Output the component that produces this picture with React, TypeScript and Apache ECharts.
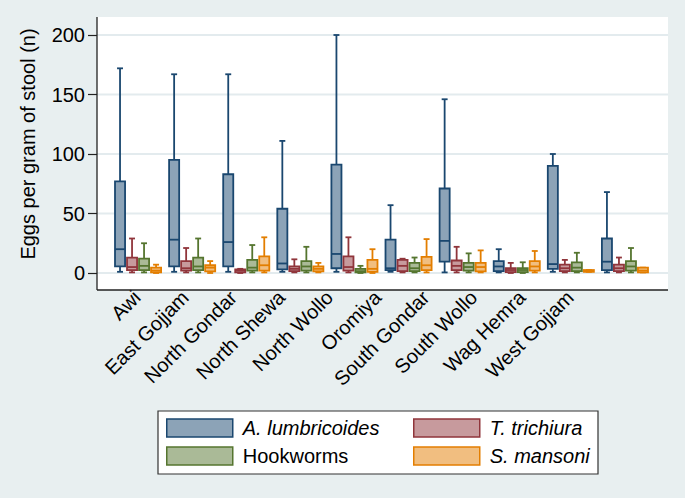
import React, { useEffect, useRef } from "react";
import * as echarts from "echarts";

const regions = [
  "Awi",
  "East Gojjam",
  "North Gondar",
  "North Shewa",
  "North Wollo",
  "Oromiya",
  "South Gondar",
  "South Wollo",
  "Wag Hemra",
  "West Gojjam",
];

// [lower whisker, Q1, median, Q3, upper whisker]
const aLumbricoides = [
  [1, 5.5, 20, 77, 172],
  [1, 5.5, 28, 95, 167],
  [1, 5.5, 26, 83, 167],
  [1, 3, 8, 54, 111],
  [1, 4, 16, 91, 200],
  [1, 2.5, 4, 28, 57],
  [0.5, 9.5, 27, 71, 146],
  [0.5, 1.5, 5.5, 10, 20],
  [1, 3.5, 7.5, 90, 100],
  [0.5, 2.5, 9.5, 29, 68],
];

const tTrichiura = [
  [0.5, 2.5, 5, 13, 29],
  [0.5, 2, 4, 10, 21],
  [0, 0.5, 2, 3, 3.5],
  [0.5, 1.5, 3.5, 5.5, 11.5],
  [0.5, 2, 5, 14, 30],
  [0.5, 1.5, 6, 11, 12],
  [0.5, 2.5, 6, 10.5, 22],
  [0, 0.8, 2.5, 4, 8.5],
  [0.5, 1.5, 4, 7, 11],
  [0.5, 1.5, 4, 7, 13],
];

const hookworms = [
  [0.5, 2.5, 6, 12, 25],
  [0.5, 2.5, 5.5, 13, 29],
  [0.5, 2, 4.5, 11, 23.5],
  [0.5, 2, 5.5, 10, 22],
  [0, 0.5, 1.5, 3.5, 6],
  [0.5, 1.5, 4, 8.5, 13],
  [0.5, 2, 5, 8.5, 16.5],
  [0, 0.8, 2.5, 4, 9],
  [0.5, 1.5, 4.5, 9, 17],
  [0.5, 2, 5.5, 10, 21],
];

const sMansoni = [
  [0, 0.5, 2, 4.5, 7],
  [0, 1.3, 4.5, 6.5, 10],
  [0.5, 2, 6.5, 14, 30],
  [0.5, 1.3, 3.5, 5.5, 8.5],
  [0, 1, 3.5, 11, 20],
  [0.5, 2.5, 6.5, 13.5, 28.5],
  [0.5, 1.3, 5, 8.5, 19],
  [0.5, 2, 5.5, 10, 18.5],
  [1, 1, 1.5, 2.5, 2.5],
  [0.5, 0.5, 2, 4.5, 4.5],
];

const yTicks = [0, 50, 100, 150, 200];

const seriesDefs = [
  { name: "A. lumbricoides", values: aLumbricoides, stroke: "#1A476F", fill: "#8CA3B7", italic: true },
  { name: "T. trichiura", values: tTrichiura, stroke: "#90353B", fill: "#C79A9D", italic: true },
  { name: "Hookworms", values: hookworms, stroke: "#55752F", fill: "#AABA97", italic: false },
  { name: "S. mansoni", values: sMansoni, stroke: "#E37E00", fill: "#F1BE80", italic: true },
];

const FONT = "'Liberation Sans', Arial, Helvetica, sans-serif";
const BG = "#e8eff0";
const GRIDLINE = "#e3ebee";
const AXIS = "#222";

const PLOT = { l: 97, r: 668, t: 17, b: 290 };
const LEGEND_BOX = { x: 158, y: 411, w: 440, h: 63 };

export default function App() {
  const ref = useRef<HTMLDivElement>(null);

  useEffect(() => {
    if (!ref.current) return;
    const chart = echarts.init(ref.current, null, { renderer: "svg" });

    const series = seriesDefs.map((def, s) => ({
      type: "custom",
      name: def.name,
      z: 5,
      xAxisIndex: 0,
      yAxisIndex: 0,
      itemStyle: { color: def.fill, borderColor: def.stroke },
      encode: { x: 0, y: [1, 2, 3, 4, 5] },
      data: def.values.map((v, i) => [i, ...v]),
      renderItem: (params: any, api: any) => {
        const ci = api.value(0);
        const band = api.size([1, 0])[0];
        const cx = api.coord([ci, 0])[0] + (s - 1.5) * band * 0.222;
        const y = [1, 2, 3, 4, 5].map((d) => api.coord([ci, api.value(d)])[1]);
        const hw = band * 0.093;
        const cap = band * 0.055;
        const lw = 1.8;
        const ls = { stroke: def.stroke, lineWidth: lw };
        return {
          type: "group",
          children: [
            { type: "line", shape: { x1: cx, y1: y[4], x2: cx, y2: y[3] }, style: ls },
            { type: "line", shape: { x1: cx, y1: y[0], x2: cx, y2: y[1] }, style: ls },
            { type: "line", shape: { x1: cx - cap, y1: y[4], x2: cx + cap, y2: y[4] }, style: ls },
            { type: "line", shape: { x1: cx - cap, y1: y[0], x2: cx + cap, y2: y[0] }, style: ls },
            {
              type: "rect",
              shape: { x: cx - hw, y: y[3], width: hw * 2, height: Math.max(y[1] - y[3], 0.5) },
              style: { fill: def.fill, stroke: def.stroke, lineWidth: lw },
            },
            { type: "line", shape: { x1: cx - hw, y1: y[2], x2: cx + hw, y2: y[2] }, style: ls },
          ],
        };
      },
    }));

    const legendCommon = {
      orient: "vertical",
      top: 418,
      padding: 0,
      itemGap: 8,
      itemWidth: 66,
      itemHeight: 18,
      icon: "rect",
      selectedMode: false,
      formatter: (name: string) => {
        const def = seriesDefs.find((d) => d.name === name);
        return def && def.italic ? `{i|${name}}` : `{n|${name}}`;
      },
      textStyle: {
        fontFamily: FONT,
        fontSize: 20,
        color: "#000",
        rich: {
          i: { fontFamily: FONT, fontSize: 20, fontStyle: "italic", color: "#000", padding: [0, 0, 0, 5] },
          n: { fontFamily: FONT, fontSize: 20, color: "#000", padding: [0, 0, 0, 5] },
        },
      },
    };

    const legendData = (names: string[]) =>
      names.map((n) => {
        const def = seriesDefs.find((d) => d.name === n)!;
        return {
          name: n,
          icon: "rect",
          itemStyle: { color: def.fill, borderColor: def.stroke, borderWidth: 1.5 },
        };
      });

    const option: any = {
      animation: false,
      backgroundColor: BG,
      textStyle: { fontFamily: FONT },
      grid: [
        { left: 111, right: 33, top: 35, bottom: 225, containLabel: false },
        // label grid: category labels in the reference sit on a tighter spacing
        { left: 113, right: 91, top: 35, bottom: 225, containLabel: false },
      ],
      xAxis: [
        {
          type: "category",
          gridIndex: 0,
          data: regions,
          axisLine: { show: false },
          axisTick: { show: false },
          splitLine: { show: false },
          axisLabel: { show: false },
        },
        {
          type: "category",
          gridIndex: 1,
          data: regions,
          offset: 17,
          axisLine: { show: false },
          axisTick: { show: false },
          splitLine: { show: false },
          axisLabel: {
            rotate: 45,
            margin: 4,
            fontSize: 20,
            color: "#000",
            fontFamily: FONT,
            interval: 0,
          },
        },
      ],
      yAxis: [
        {
          type: "value",
          gridIndex: 0,
          min: 0,
          max: 200,
          interval: 50,
          offset: 14,
          name: "Eggs per gram of stool (n)",
          nameLocation: "middle",
          nameGap: 59,
          nameTextStyle: { fontSize: 20, color: "#000", fontFamily: FONT, padding: [0, 0, 0, 20] },
          axisLine: { show: false },
          axisTick: { show: true, length: 9, lineStyle: { color: AXIS, width: 1.2 } },
          splitLine: { show: false },
          axisLabel: { fontSize: 20, color: "#000", fontFamily: FONT, margin: 12 },
        },
        {
          type: "value",
          gridIndex: 1,
          min: 0,
          max: 200,
          interval: 50,
          show: false,
        },
      ],
      legend: [
        { ...legendCommon, left: 166, data: legendData(["A. lumbricoides", "Hookworms"]) },
        { ...legendCommon, left: 413, data: legendData(["T. trichiura", "S. mansoni"]) },
      ],
      series,
    };

    chart.setOption(option);

    const gridLines = yTicks.map((v) => {
      const py = chart.convertToPixel({ yAxisIndex: 0 }, v) as number;
      return {
        type: "line",
        z: 1,
        shape: { x1: PLOT.l, y1: py, x2: PLOT.r, y2: py },
        style: { stroke: GRIDLINE, lineWidth: 2 },
        silent: true,
      };
    });

    chart.setOption({
      graphic: [
        {
          type: "rect",
          z: 0,
          shape: { x: PLOT.l, y: PLOT.t, width: PLOT.r - PLOT.l, height: PLOT.b - PLOT.t },
          style: { fill: "#ffffff" },
          silent: true,
        },
        ...gridLines,
        {
          type: "line",
          z: 3,
          shape: { x1: PLOT.l, y1: PLOT.t, x2: PLOT.l, y2: PLOT.b },
          style: { stroke: AXIS, lineWidth: 1.3 },
          silent: true,
        },
        {
          type: "line",
          z: 3,
          shape: { x1: PLOT.l, y1: PLOT.b, x2: PLOT.r, y2: PLOT.b },
          style: { stroke: AXIS, lineWidth: 1.3 },
          silent: true,
        },
        {
          type: "rect",
          z: 0,
          shape: { x: LEGEND_BOX.x, y: LEGEND_BOX.y, width: LEGEND_BOX.w, height: LEGEND_BOX.h },
          style: { fill: "#ffffff", stroke: "#333", lineWidth: 1.2 },
          silent: true,
        },
      ],
    });

    return () => chart.dispose();
  }, []);

  return (
    <div
      ref={ref}
      style={{ position: "fixed", left: 0, top: 0, width: 685, height: 498 }}
    />
  );
}
